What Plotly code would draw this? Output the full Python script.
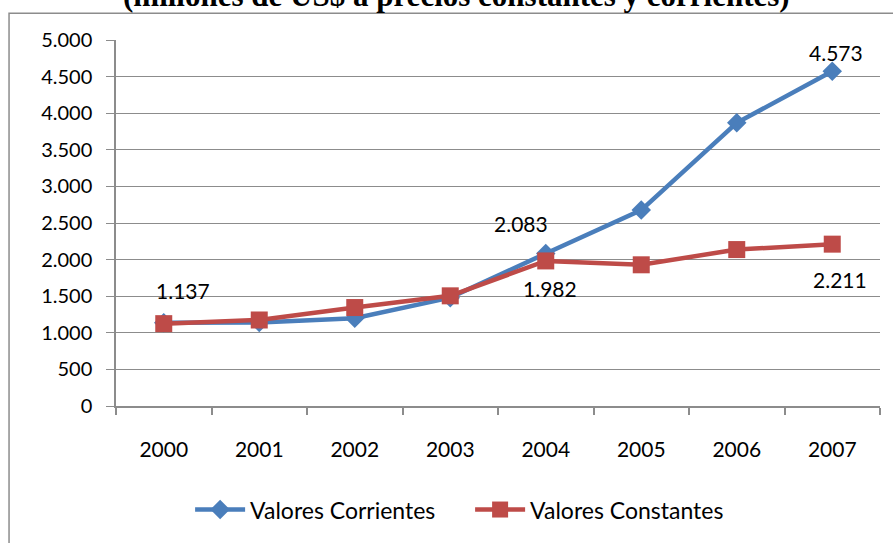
import plotly.graph_objects as go

years = ["2000", "2001", "2002", "2003", "2004", "2005", "2006", "2007"]
corrientes = [1137, 1140, 1200, 1480, 2083, 2677, 3868, 4573]
constantes = [1125, 1175, 1345, 1505, 1982, 1929, 2137, 2211]

label_years = ["2000", "2004", "2004", "2007", "2007"]
label_values = [1137, 2083, 1982, 4573, 2211]
label_texts = ["1.137", "2.083", "1.982", "4.573", "2.211"]
label_dx = [19, -25, 4, 4, 8]
label_dy = [32, 30, -28, 19, -35]

title_text = "(millones de US$ a precios constantes y corrientes)"

BLUE = "#4A7EBB"
RED = "#BE4B48"
GRID = "#8C8C8C"
FONT = "Lato"

xi = list(range(len(years)))

fig = go.Figure()
fig.add_trace(go.Scatter(
    x=xi, y=corrientes, name="Valores Corrientes", mode="lines+markers",
    line=dict(color=BLUE, width=4.5),
    marker=dict(symbol="diamond", size=15, color=BLUE),
))
fig.add_trace(go.Scatter(
    x=xi, y=constantes, name="Valores Constantes", mode="lines+markers",
    line=dict(color=RED, width=4.5),
    marker=dict(symbol="square", size=17, color=RED),
))

for yr, yv, t, dx, dy in zip(label_years, label_values, label_texts, label_dx, label_dy):
    fig.add_annotation(x=years.index(yr), y=yv, xref="x", yref="y", text=t, showarrow=False,
                       xshift=dx, yshift=dy, font=dict(family=FONT, size=21, color="#000"))

fig.add_annotation(x=0.446, y=1.067, xref="paper", yref="paper", text="<b>" + title_text + "</b>",
                   showarrow=False, xanchor="center", yanchor="bottom",
                   font=dict(family="Liberation Serif", size=31, color="#000"))

fig.add_shape(type="rect", xref="paper", yref="paper", x0=-0.14, x1=1.2, y0=-0.6, y1=1.0734,
              line=dict(color=GRID, width=1.5), fillcolor="rgba(0,0,0,0)", layer="above")

boundaries = [i - 0.5 for i in range(len(years) + 1)]

fig.update_layout(
    width=893, height=543,
    margin=dict(l=116, r=13, t=40, b=135),
    paper_bgcolor="white", plot_bgcolor="white",
    separators=",.",
    showlegend=True,
    legend=dict(orientation="h", x=0.097, xanchor="left", y=-0.283, yanchor="middle",
                font=dict(family=FONT, size=23, color="#000"), itemwidth=50, entrywidth=215),
    xaxis=dict(range=[-0.5, len(years) - 0.5], tickmode="array", tickvals=xi, ticktext=years,
               ticks="", showline=True, linecolor=GRID, linewidth=1.5, showgrid=False,
               zeroline=False, tickangle=0,
               minor=dict(tickmode="array", tickvals=boundaries, ticks="outside", ticklen=7,
                          tickcolor=GRID, tickwidth=1.5, showgrid=False),
               tickfont=dict(family=FONT, size=21, color="#000"), ticklabelstandoff=24),
    yaxis=dict(range=[0, 5000], dtick=500, tickformat=",d", ticks="outside", ticklen=8,
               tickcolor=GRID, showline=True, linecolor=GRID, linewidth=1.5,
               gridcolor=GRID, gridwidth=1.3, zeroline=False,
               tickfont=dict(family=FONT, size=20, color="#000"), ticklabelstandoff=10),
)

fig.write_html("out.html", config={"displayModeBar": False},
               post_script="document.body.style.margin='0';")
